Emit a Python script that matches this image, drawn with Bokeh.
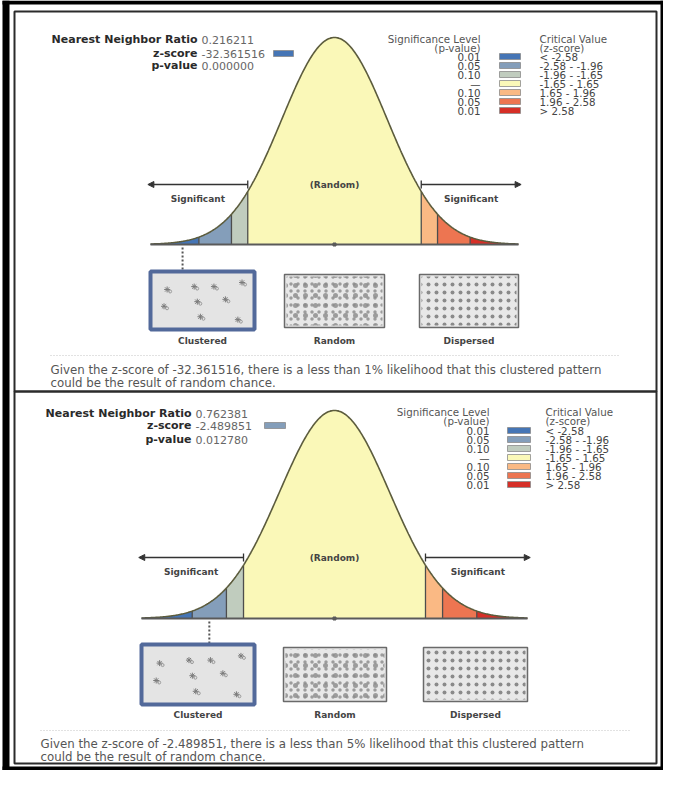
import numpy as np
from bokeh.plotting import figure
from bokeh.models import Range1d, Arrow, NormalHead, TeeHead
from bokeh.core.properties import value
from bokeh.embed import file_html
from bokeh.resources import INLINE

# ---------------- data ----------------
nn_ratio = [0.216211, 0.762381]
z_scores = [-32.361516, -2.489851]
p_values = [0.000000, 0.012780]
band_edges = [-2.58, -1.96, -1.65, 1.65, 1.96, 2.58]
band_p_labels = ["0.01", "0.05", "0.10", "\u2014", "0.10", "0.05", "0.01"]
band_crit_labels = ["< -2.58", "-2.58 - -1.96", "-1.96 - -1.65", "-1.65 - 1.65",
                    "1.65 - 1.96", "1.96 - 2.58", "> 2.58"]
band_colors = ["#4575B5", "#849EBA", "#C0CCBE", "#FAF8B8", "#FAB984", "#ED7551", "#D62F27"]
band_likelihood = ["1%", "5%", "10%", "", "10%", "5%", "1%"]
pattern_labels = ["Clustered", "Random", "Dispersed"]
stat_labels = ["Nearest Neighbor Ratio", "z-score", "p-value"]
# illustrative cluster centres in the "Clustered" thumbnail (fractions of the box)
cluster_fx = [0.16, 0.42, 0.61, 0.88, 0.13, 0.45, 0.72, 0.48, 0.84]
cluster_fy = [0.31, 0.26, 0.26, 0.19, 0.60, 0.52, 0.48, 0.78, 0.83]

# ---------------- layout (page pixels) ----------------
Z_EXT = 3.5
LAYOUT = [
    dict(frame=(22, 664, 19, 399), curve_x=(158, 526), base=252, peak=45,
         lab_right=205, val_x=209, stat_y=(47, 61, 73), stat_sw=(281, 301),
         sig_right=488, title_y=(46, 55), row_y0=64, row_dy=9, leg_sw=(507, 528), crit_x=547,
         arrow_y=192, sig_y=206,
         boxes=[(158, 262, 279, 337), (292, 392, 282, 335), (427, 526, 282, 335)], label_y=348,
         sep=(58, 626, 363), text_x=58, text_y=(377, 390)),
    dict(frame=(22, 664, 399, 771), curve_x=(149, 535), base=626, peak=418,
         lab_right=199, val_x=203, stat_y=(421, 433, 447), stat_sw=(272, 293),
         sig_right=497, title_y=(419, 428), row_y0=438, row_dy=9, leg_sw=(515, 538), crit_x=553,
         arrow_y=565, sig_y=579,
         boxes=[(149, 262, 652, 712), (291, 394, 655, 709), (431, 535, 655, 709)], label_y=722,
         sep=(48, 638, 738), text_x=48, text_y=(751, 764)),
]

FONT = value("DejaVu Sans")


def pdf(z):
    z = np.asarray(z, dtype=float)
    return np.exp(-0.5 * z ** 2) / np.sqrt(2 * np.pi)


W, H = 663, 770
X0, Y0 = 8, 8
p = figure(width=W, height=H, x_range=Range1d(X0, X0 + W), y_range=Range1d(Y0 + H, Y0),
           output_backend="svg", toolbar_location=None, x_axis_type=None, y_axis_type=None,
           min_border=0, outline_line_color=None,
           background_fill_color="white", border_fill_color="white")

xr, yr = {}, {}
for i, L in enumerate(LAYOUT):
    xl, xrt = L["curve_x"]
    ppz = (xrt - xl) / (2 * Z_EXT)
    zc = (xl + xrt) / 2
    xr[f"z{i}"] = Range1d(-(zc - X0) / ppz, (X0 + W - zc) / ppz)
    k = float(pdf(0)) / (L["base"] - L["peak"])
    yr[f"d{i}"] = Range1d(-(Y0 + H - L["base"]) * k, (L["base"] - Y0) * k)
p.extra_x_ranges = xr
p.extra_y_ranges = yr


def txt(x, y, s, size="10px", style="normal", align="left", color="#333", **kw):
    p.text(x=[x], y=[y], text=[s], text_font=FONT, text_font_size=size,
           text_font_style=style, text_align=align, text_baseline="middle",
           text_color=color, **kw)


# outer black border
p.quad(left=[10, 10, 668, 10], right=[17, X0 + W, X0 + W, X0 + W],
       top=[Y0, Y0, Y0, 774], bottom=[Y0 + H, 12, Y0 + H, Y0 + H],
       fill_color="black", line_color=None)

for i, L in enumerate(LAYOUT):
    zr = dict(x_range_name=f"z{i}", y_range_name=f"d{i}")
    z = z_scores[i]
    band = int(np.searchsorted(band_edges, z))

    # panel frame
    l, r, t, b = L["frame"]
    p.quad(left=[l], right=[r], top=[t], bottom=[b], fill_color=None,
           line_color="#2b2b2b", line_width=2)

    # bell curve bands
    lims = [-Z_EXT] + band_edges + [Z_EXT]
    for j in range(7):
        zs = np.linspace(lims[j], lims[j + 1], 80)
        p.varea(x=zs, y1=np.zeros_like(zs), y2=pdf(zs), fill_color=band_colors[j], **zr)
    p.segment(x0=band_edges, y0=[0] * 6, x1=band_edges, y1=list(pdf(band_edges)),
              line_color="#4d4d4d", line_width=1.3, **zr)
    zg = np.linspace(-Z_EXT, Z_EXT, 400)
    p.line(zg, pdf(zg), line_color="#5c5c3d", line_width=1.6, **zr)
    p.segment(x0=[-Z_EXT], y0=[0], x1=[Z_EXT], y1=[0], line_color="#5a5a5a", line_width=2, **zr)
    p.scatter([0], [0], marker="square", size=3, color="#5a5a5a", **zr)

    # arrows + labels
    for sgn in (-1, 1):
        p.add_layout(Arrow(x_start=sgn * band_edges[3], y_start=L["arrow_y"],
                           x_end=sgn * (Z_EXT + 0.05), y_end=L["arrow_y"],
                           start=TeeHead(size=8, line_color="#333", line_width=1.3),
                           end=NormalHead(size=6, fill_color="#333", line_color="#333"),
                           line_color="#333", line_width=1.3, x_range_name=f"z{i}"))
        txt(sgn * 2.6, L["sig_y"], "Significant", size="9px", style="bold",
            align="center", color="#444", x_range_name=f"z{i}")
    txt(0, L["arrow_y"], "(Random)", size="9px", style="bold", align="center",
        color="#444", x_range_name=f"z{i}")

    # statistics block
    vals = [f"{nn_ratio[i]:.6f}", f"{z:.6f}", f"{p_values[i]:.6f}"]
    for s, v, y in zip(stat_labels, vals, L["stat_y"]):
        txt(L["lab_right"], y, s, size="11px", style="bold", align="right", color="#2a2a2a")
        txt(L["val_x"], y, v, size="11px", color="#666")
    sx0, sx1 = L["stat_sw"]
    sy = L["stat_y"][1]
    p.quad(left=[sx0], right=[sx1], top=[sy - 3], bottom=[sy + 3],
           fill_color=band_colors[band], line_color="#8a8a8a", line_width=0.8)

    # legend
    LF = "10.3px"
    txt(L["sig_right"], L["title_y"][0], "Significance Level", size=LF, align="right", color="#555")
    txt(L["sig_right"], L["title_y"][1], "(p-value)", size=LF, align="right", color="#555")
    txt(L["crit_x"], L["title_y"][0], "Critical Value", size=LF, color="#555")
    txt(L["crit_x"], L["title_y"][1], "(z-score)", size=LF, color="#555")
    ys = [L["row_y0"] + r_ * L["row_dy"] for r_ in range(7)]
    p.text(x=[L["sig_right"]] * 7, y=ys, text=band_p_labels, text_font=FONT,
           text_font_size=LF, text_align="right", text_baseline="middle", text_color="#444")
    p.text(x=[L["crit_x"]] * 7, y=ys, text=band_crit_labels, text_font=FONT,
           text_font_size=LF, text_align="left", text_baseline="middle", text_color="#444")
    lx0, lx1 = L["leg_sw"]
    p.quad(left=[lx0] * 7, right=[lx1] * 7, top=[y - 3 for y in ys], bottom=[y + 3 for y in ys],
           fill_color=band_colors, line_color="#8a8a8a", line_width=0.8)

    # marker line from curve to the clustered thumbnail
    lo = band_edges[band - 1] if band > 0 else -3.2
    hi = band_edges[band] if band < 6 else 3.2
    mz = (lo + hi) / 2
    p.segment(x0=[mz], y0=[L["base"] + 3], x1=[mz], y1=[L["boxes"][0][2]],
              line_color="#555", line_width=2, line_dash="2 2", x_range_name=f"z{i}")

    # pattern thumbnails
    (cl, cr, ct, cb), (rl, rr, rt, rb), (dl, dr, dt, db) = L["boxes"]
    p.quad(left=[cl], right=[cr], top=[ct], bottom=[cb], fill_color="#e4e4e4",
           line_color="#52699a", line_width=4)
    cxs = [cl + fx * (cr - cl) for fx in cluster_fx]
    cys = [ct + fy * (cb - ct) for fy in cluster_fy]
    p.scatter(cxs, cys, marker="asterisk", size=6, line_color="#7a7a7a", line_width=1)
    p.scatter([x + 3 for x in cxs], [y + 2 for y in cys], marker="circle", size=3,
              fill_color=None, line_color="#8a8a8a", line_width=0.8)

    p.quad(left=[rl], right=[rr], top=[rt], bottom=[rb], fill_color="#e8e8e8",
           line_color="#6a6a6a", line_width=1.5)
    for sc in (7, 10):
        p.quad(left=[rl + 2], right=[rr - 2], top=[rt + 2], bottom=[rb - 2], fill_alpha=0,
               line_color=None, hatch_pattern="dot", hatch_scale=sc, hatch_weight=1.0,
               hatch_color="#8a8a8a", hatch_alpha=0.8)
    p.quad(left=[dl], right=[dr], top=[dt], bottom=[db], fill_color="#e8e8e8",
           line_color="#6a6a6a", line_width=1.5)
    p.quad(left=[dl + 2], right=[dr - 2], top=[dt + 2], bottom=[db - 2], fill_alpha=0,
           line_color=None, hatch_pattern="dot", hatch_scale=8, hatch_weight=1.2,
           hatch_color="#8a8a8a")
    for (bl, br, _, _), lab in zip(L["boxes"], pattern_labels):
        txt((bl + br) / 2, L["label_y"], lab, size="9px", style="bold", align="center", color="#444")

    # separator + description
    s0, s1, syp = L["sep"]
    p.segment(x0=[s0], y0=[syp], x1=[s1], y1=[syp], line_color="#c4c4c4",
              line_width=1, line_dash="1 2")
    line1 = (f"Given the z-score of {z:.6f}, there is a less than {band_likelihood[band]} "
             f"likelihood that this clustered pattern")
    txt(L["text_x"], L["text_y"][0], line1, size="11.8px", color="#555")
    txt(L["text_x"], L["text_y"][1], "could be the result of random chance.", size="11.8px", color="#555")

open("out.html", "w").write(file_html(p, INLINE))
